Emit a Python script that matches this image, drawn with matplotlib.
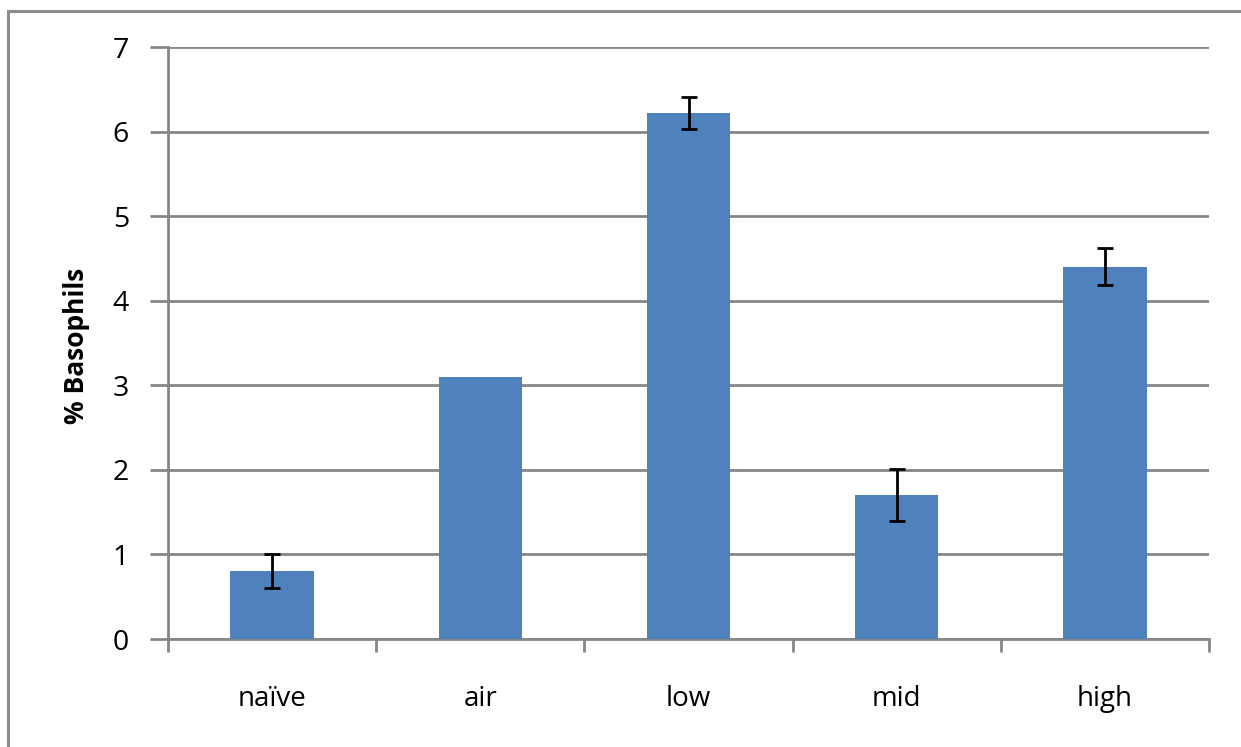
import matplotlib
matplotlib.use('Agg')
import matplotlib.pyplot as plt
from matplotlib.patches import Rectangle
import numpy as np

# data
groups = ['naïve', 'air', 'low', 'mid', 'high']
basophils = [0.80, 3.10, 6.22, 1.70, 4.40]
errors = [0.20, 0.0, 0.19, 0.31, 0.22]
has_error = [True, False, True, True, True]

plt.rcParams['font.family'] = ['Open Sans', 'DejaVu Sans']

fig = plt.figure(figsize=(12.41, 7.47), dpi=100)
ax = fig.add_axes([168 / 1241, 1 - 639 / 747, (1209 - 168) / 1241, (639 - 47) / 747])

# outer chart border (runs off the right/bottom edge in the original)
fig.patches.append(Rectangle((8 / 1241, -0.1), 1.2, 1 - 11 / 747 + 0.1,
                             transform=fig.transFigure, fill=False,
                             edgecolor='#8c8c8c', linewidth=2.2))

x = np.arange(len(groups))
ax.bar(x, basophils, width=0.4, color='#4F81BD', zorder=3)
for xi, v, e, show in zip(x, basophils, errors, has_error):
    if show:
        ax.errorbar(xi, v, yerr=e, fmt='none', ecolor='black',
                    elinewidth=2, capsize=5.5, capthick=2, zorder=4)

ax.set_xlim(-0.5, len(groups) - 0.5)
ax.set_ylim(0, 7)
ax.set_yticks(range(0, 8))
ax.yaxis.grid(True, color='#868686', linewidth=2, zorder=0)
ax.set_axisbelow(True)

ax.set_xticks(x)
ax.set_xticklabels(groups)
ax.set_xticks(np.arange(-0.5, len(groups)), minor=True)
ax.tick_params(axis='x', which='major', length=0, pad=33, labelsize=20)
ax.tick_params(axis='x', which='minor', length=9, width=2, color='#868686', direction='out')
ax.tick_params(axis='y', length=13, width=2, color='#868686', direction='out', pad=15, labelsize=20.5)

for side in ['top', 'right']:
    ax.spines[side].set_visible(False)
for side in ['left', 'bottom']:
    ax.spines[side].set_color('#868686')
    ax.spines[side].set_linewidth(2)

fig.text(76 / 1241, 1 - 346 / 747, '% Basophils', rotation=90, fontsize=19,
         fontweight='bold', ha='center', va='center')

fig.savefig('out.png', dpi=100)
